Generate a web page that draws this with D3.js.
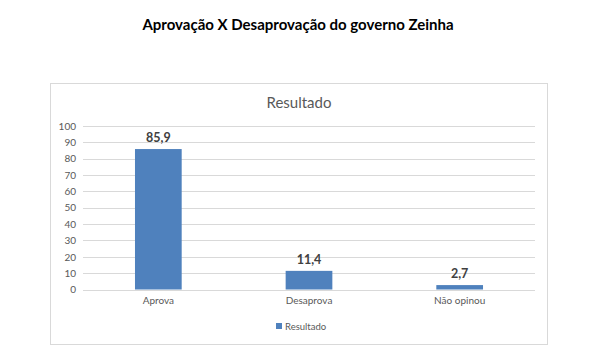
<!DOCTYPE html>
<html>
<head>
<meta charset="utf-8">
<script src="https://cdn.jsdelivr.net/npm/d3@7"></script>
<style>
  body { margin: 0; background: #fff; }
  text { font-family: Lato, "Open Sans", sans-serif; }
</style>
</head>
<body>
<svg id="chart" width="600" height="362"></svg>
<script>
var categories = ['Aprova', 'Desaprova', 'Não opinou'];
var values = [85.9, 11.4, 2.7];
var y_ticks = [0, 10, 20, 30, 40, 50, 60, 70, 80, 90, 100];
var series_name = 'Resultado';

var svg = d3.select('#chart');
var fmt = function(v) { return String(v).replace('.', ','); };

// page title
svg.append('text')
   .attr('x', 298).attr('y', 30)
   .attr('text-anchor', 'middle')
   .style('font-size', '15px')
   .style('font-weight', 'bold')
   .style('fill', '#000')
   .text('Aprovação X Desaprovação do governo Zeinha');

// chart frame
svg.append('rect')
   .attr('x', 50.5).attr('y', 83.5)
   .attr('width', 497).attr('height', 261)
   .style('fill', '#fff')
   .style('stroke', '#d9d9d9');

svg.append('text')
   .attr('x', 299).attr('y', 108)
   .attr('text-anchor', 'middle')
   .style('font-size', '15px')
   .style('fill', '#595959')
   .text(series_name);

var x = d3.scaleBand().domain(categories).range([83, 535]).paddingInner(0.69).paddingOuter(0.345);
var y = d3.scaleLinear().domain([0, 100]).range([289.5, 126]);

// gridlines
svg.append('g')
   .selectAll('line')
   .data(y_ticks)
   .enter()
   .append('line')
   .attr('x1', 83).attr('x2', 535)
   .attr('y1', function(d) { return Math.round(y(d)) + 0.5; })
   .attr('y2', function(d) { return Math.round(y(d)) + 0.5; })
   .style('stroke', '#d9d9d9');

// y axis labels
var yAxis = d3.axisLeft(y).tickValues(y_ticks).tickSize(0).tickPadding(0);
var ya = svg.append('g').attr('transform', 'translate(76,0)').call(yAxis);
ya.select('.domain').remove();
ya.selectAll('text')
  .style('font-family', 'Lato, sans-serif')
  .style('font-size', '10px')
  .style('fill', '#595959');

// bars
svg.append('g')
   .selectAll('rect')
   .data(values)
   .enter()
   .append('rect')
   .attr('x', function(d, i) { return x(categories[i]); })
   .attr('y', function(d) { return y(d); })
   .attr('width', x.bandwidth())
   .attr('height', function(d) { return y(0) - y(d); })
   .style('fill', '#4f81bd');

// data labels
svg.append('g')
   .selectAll('text')
   .data(values)
   .enter()
   .append('text')
   .attr('x', function(d, i) { return x(categories[i]) + x.bandwidth() / 2; })
   .attr('y', function(d) { return y(d) - 7; })
   .attr('text-anchor', 'middle')
   .style('font-size', '12.5px')
   .style('font-weight', 'bold')
   .style('fill', '#404040')
   .text(fmt);

// x axis labels
var xAxis = d3.axisBottom(x).tickSize(0).tickPadding(0);
var xa = svg.append('g').attr('transform', 'translate(0,297)').call(xAxis);
xa.select('.domain').remove();
xa.selectAll('text')
  .style('font-family', 'Lato, sans-serif')
  .style('font-size', '10px')
  .style('fill', '#595959');

// legend
svg.append('rect')
   .attr('x', 276).attr('y', 323)
   .attr('width', 6).attr('height', 6)
   .style('fill', '#4f81bd');
svg.append('text')
   .attr('x', 285).attr('y', 330)
   .style('font-size', '9.5px')
   .style('fill', '#595959')
   .text(series_name);
</script>
</body>
</html>
